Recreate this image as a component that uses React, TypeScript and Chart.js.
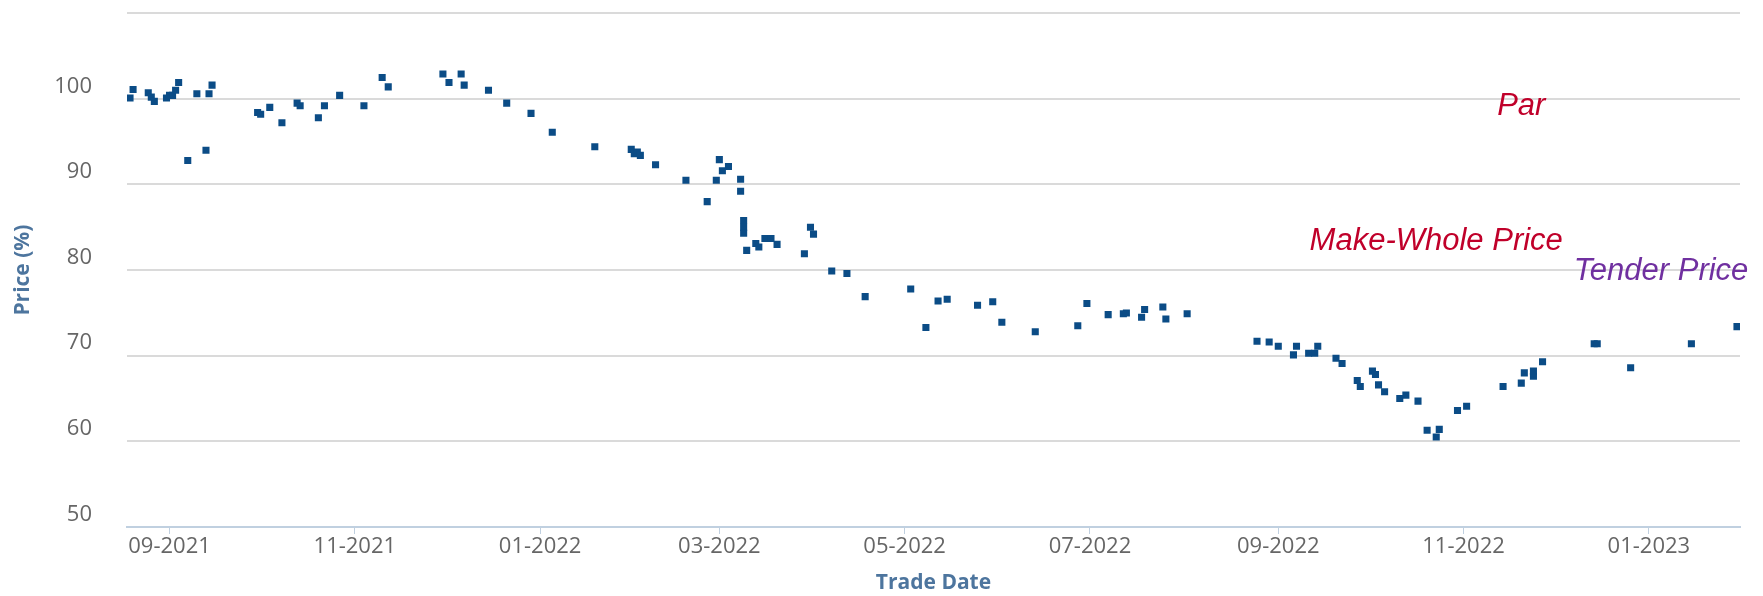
import { useEffect, useRef } from 'react';
import { Chart, registerables } from 'chart.js';

Chart.register(...registerables);

// Trade dates (YYYY-MM-DD) and prices (% of par)
const tradeDates = [
  '2021-08-19', '2021-08-20', '2021-08-25', '2021-08-26', '2021-08-27', '2021-08-31',
  '2021-09-01', '2021-09-02', '2021-09-03', '2021-09-04', '2021-09-07', '2021-09-10',
  '2021-09-13', '2021-09-14', '2021-09-15', '2021-09-30', '2021-10-01', '2021-10-04',
  '2021-10-08', '2021-10-13', '2021-10-14', '2021-10-20', '2021-10-22', '2021-10-27',
  '2021-11-04', '2021-11-10', '2021-11-12', '2021-11-30', '2021-12-02', '2021-12-06',
  '2021-12-07', '2021-12-15', '2021-12-21', '2021-12-29',
  '2022-01-05', '2022-01-19', '2022-01-31', '2022-02-01', '2022-02-02', '2022-02-03',
  '2022-02-08', '2022-02-18', '2022-02-25', '2022-02-28', '2022-03-01', '2022-03-02',
  '2022-03-04', '2022-03-08', '2022-03-08', '2022-03-09', '2022-03-09', '2022-03-09',
  '2022-03-10', '2022-03-13', '2022-03-14', '2022-03-16', '2022-03-18', '2022-03-20',
  '2022-03-29', '2022-03-31', '2022-04-01', '2022-04-07', '2022-04-12', '2022-04-18',
  '2022-05-03', '2022-05-08', '2022-05-12', '2022-05-15', '2022-05-25', '2022-05-30',
  '2022-06-02', '2022-06-13', '2022-06-27', '2022-06-30', '2022-07-07', '2022-07-12',
  '2022-07-13', '2022-07-18', '2022-07-19', '2022-07-25', '2022-07-26', '2022-08-02',
  '2022-08-25', '2022-08-29', '2022-09-01', '2022-09-06', '2022-09-07', '2022-09-11',
  '2022-09-13', '2022-09-14', '2022-09-20', '2022-09-22', '2022-09-27', '2022-09-28',
  '2022-10-02', '2022-10-03', '2022-10-04', '2022-10-06', '2022-10-11', '2022-10-13',
  '2022-10-17', '2022-10-20', '2022-10-23', '2022-10-24', '2022-10-30', '2022-11-02',
  '2022-11-14', '2022-11-20', '2022-11-21', '2022-11-24', '2022-11-24', '2022-11-27',
  '2022-12-14', '2022-12-15', '2022-12-26', '2023-01-15', '2023-01-30',
];

const prices = [
  100.1, 101.1, 100.7, 100.2, 99.7, 100.1,
  100.4, 100.4, 101.0, 101.9, 92.8, 100.6,
  94.0, 100.6, 101.6, 98.4, 98.2, 99.0,
  97.2, 99.5, 99.2, 97.8, 99.2, 100.4,
  99.2, 102.5, 101.4, 102.9, 101.9, 102.9,
  101.6, 101.0, 99.5, 98.3,
  96.1, 94.4, 94.1, 93.6, 93.8, 93.4,
  92.3, 90.5, 88.0, 90.5, 92.9, 91.6,
  92.1, 90.6, 89.2, 85.8, 85.0, 84.3,
  82.3, 83.1, 82.7, 83.7, 83.7, 83.0,
  81.9, 85.0, 84.2, 79.9, 79.6, 76.9,
  77.8, 73.3, 76.4, 76.6, 75.9, 76.3,
  73.9, 72.8, 73.5, 76.1, 74.8, 74.9,
  75.0, 74.5, 75.4, 75.7, 74.3, 74.9,
  71.7, 71.6, 71.1, 70.1, 71.1, 70.3,
  70.3, 71.1, 69.7, 69.1, 67.1, 66.4,
  68.2, 67.8, 66.6, 65.8, 65.0, 65.4,
  64.7, 61.3, 60.5, 61.4, 63.6, 64.1,
  66.4, 66.8, 68.0, 67.6, 68.2, 69.3,
  71.4, 71.4, 68.6, 71.4, 73.4,
];

const xTickMonths = [
  '2021-09-01', '2021-11-01', '2022-01-01', '2022-03-01', '2022-05-01',
  '2022-07-01', '2022-09-01', '2022-11-01', '2023-01-01',
];
const yTickValues = [50, 60, 70, 80, 90, 100, 110];
const xAxisRange = ['2021-08-18', '2023-01-31'];

const annotationLabels = ['Par', 'Make-Whole Price', 'Tender Price'];
const annotationDates = ['2022-11-20', '2022-10-23', '2023-01-05'];
const annotationValues = [98.15, 82.38, 78.9];
const annotationColors = ['#c0002a', '#c0002a', '#7030a0'];

const ts = (s: string) => {
  const [y, m, d] = s.split('-').map(Number);
  return Date.UTC(y, m - 1, d);
};
const fmtMonth = (v: number) => {
  const d = new Date(v);
  return String(d.getUTCMonth() + 1).padStart(2, '0') + '-' + d.getUTCFullYear();
};

const annotationPlugin = {
  id: 'priceLabels',
  afterDatasetsDraw(chart: any) {
    const { ctx, scales } = chart;
    const xs = scales.x;
    const ys = scales.y;
    ctx.save();
    ctx.font = 'italic 31px "Liberation Sans", Arial, sans-serif';
    ctx.textAlign = 'center';
    ctx.textBaseline = 'alphabetic';
    annotationLabels.forEach((t, i) => {
      ctx.fillStyle = annotationColors[i];
      ctx.fillText(t, xs.getPixelForValue(ts(annotationDates[i])), ys.getPixelForValue(annotationValues[i]));
    });
    ctx.restore();
  },
};

export default function App() {
  const canvasRef = useRef<HTMLCanvasElement | null>(null);

  useEffect(() => {
    if (!canvasRef.current) return;
    const tickFont = { family: '"Open Sans", sans-serif', size: 22 };
    const titleFont = { family: '"Open Sans", sans-serif', size: 21, weight: 'bold' as const, lineHeight: 1 };
    const chart = new Chart(canvasRef.current, {
      type: 'scatter',
      data: {
        datasets: [
          {
            label: 'Price',
            data: tradeDates.map((d, i) => ({ x: ts(d), y: prices[i] })),
            pointStyle: 'rect',
            pointRadius: 5,
            pointHoverRadius: 5,
            backgroundColor: '#0b4c86',
            borderColor: '#0b4c86',
            borderWidth: 0,
          },
        ],
      },
      options: {
        animation: false,
        responsive: true,
        maintainAspectRatio: false,
        layout: { padding: { top: 10, right: 23, bottom: 0, left: 0 } },
        plugins: {
          legend: { display: false },
          tooltip: { enabled: false },
        },
        scales: {
          x: {
            type: 'linear',
            min: ts(xAxisRange[0]),
            max: ts(xAxisRange[1]),
            afterBuildTicks: (s: any) => {
              s.ticks = xTickMonths.map((m) => ({ value: ts(m) }));
            },
            afterFit: (s: any) => {
              s.height = 69;
            },
            grid: {
              drawOnChartArea: false,
              drawTicks: true,
              tickLength: 7,
              color: '#c0d0e0',
              lineWidth: 1,
            },
            border: { display: true, color: '#c0d0e0', width: 2 },
            ticks: {
              autoSkip: false,
              maxRotation: 0,
              minRotation: 0,
              padding: 0,
              color: '#666666',
              font: tickFont,
              callback: (v: any) => fmtMonth(Number(v)),
            },
            title: {
              display: true,
              text: 'Trade Date',
              color: '#4d759e',
              font: titleFont,
              padding: { top: 0, bottom: 2.5 },
            },
          },
          y: {
            type: 'linear',
            min: 50,
            max: 110,
            afterBuildTicks: (s: any) => {
              s.ticks = yTickValues.map((v) => ({ value: v }));
            },
            afterFit: (s: any) => {
              s.width = 127;
            },
            grid: {
              drawTicks: true,
              tickLength: 35,
              tickColor: 'rgba(0,0,0,0)',
              lineWidth: 2,
              color: (c: any) => (c.tick && c.tick.value === 50 ? 'rgba(0,0,0,0)' : '#dadada'),
            },
            border: { display: false },
            ticks: {
              padding: 0,
              labelOffset: -12.5,
              color: '#666666',
              font: tickFont,
              callback: (v: any) => (Number(v) === 110 ? '' : String(v)),
            },
            title: {
              display: true,
              text: 'Price (%)',
              color: '#4d759e',
              font: titleFont,
              padding: { top: 12.5, bottom: 0 },
            },
          },
        },
      },
      plugins: [annotationPlugin],
    });
    return () => chart.destroy();
  }, []);

  return (
    <div style={{ position: 'fixed', left: 0, top: 0, width: 1763, height: 596, background: '#ffffff' }}>
      <canvas ref={canvasRef} />
    </div>
  );
}
